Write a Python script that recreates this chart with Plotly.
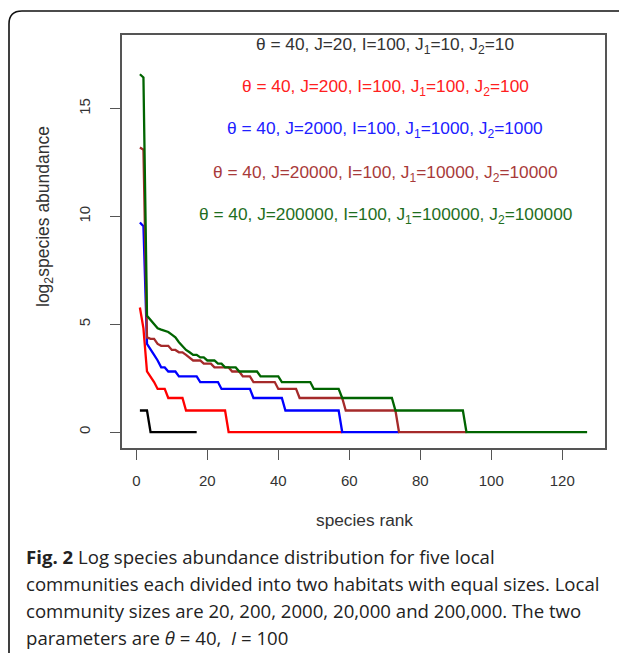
import plotly.graph_objects as go

# ---------------- data (log2 species abundance by rank) ----------------
black_vals = [1, 1, 1, 0, 0, 0, 0, 0, 0, 0, 0, 0, 0, 0, 0, 0, 0]

red_vals = [5.78, 4.81, 2.81, 2.58, 2.32, 2, 2, 2,
            1.58, 1.58, 1.58, 1.58, 1.58,
            1, 1, 1, 1, 1, 1, 1, 1, 1, 1, 1, 1,
            0, 0, 0, 0, 0, 0, 0, 0, 0, 0, 0, 0, 0, 0, 0, 0, 0,
            0, 0, 0, 0, 0, 0, 0, 0, 0, 0, 0, 0, 0, 0, 0, 0]

blue_vals = [9.72, 9.55, 4.09, 3.81, 3.58, 3.32, 3, 3, 2.81, 2.81, 2.81,
             2.58, 2.58, 2.58, 2.58, 2.58, 2.58,
             2.32, 2.32, 2.32, 2.32, 2.32, 2.32,
             2, 2, 2, 2, 2, 2, 2, 2, 2,
             1.58, 1.58, 1.58, 1.58, 1.58, 1.58, 1.58, 1.58, 1.58,
             1, 1, 1, 1, 1, 1, 1, 1, 1, 1, 1, 1, 1, 1, 1, 1,
             0, 0, 0, 0, 0, 0, 0, 0, 0, 0, 0, 0, 0, 0, 0, 0, 0]

brown_vals = [13.2, 13.1, 4.39, 4.32, 4.32, 4.09, 4, 4, 4, 3.81, 3.81, 3.7, 3.7,
              3.58, 3.46, 3.32, 3.32, 3.32, 3.17, 3.17, 3.17, 3, 3, 3, 3, 3,
              2.81, 2.81, 2.81, 2.58, 2.58, 2.58,
              2.32, 2.32, 2.32, 2.32, 2.32, 2.32, 2.32,
              2, 2, 2, 2, 2, 2,
              1.58, 1.58, 1.58, 1.58, 1.58, 1.58, 1.58, 1.58, 1.58, 1.58, 1.58, 1.58, 1.58,
              1, 1, 1, 1, 1, 1, 1, 1, 1, 1, 1, 1, 1, 1, 1,
              0, 0, 0, 0, 0, 0, 0, 0, 0, 0, 0, 0, 0, 0, 0, 0, 0, 0, 0, 0]

green_vals = [16.6, 16.45, 5.39, 5.21, 5.0, 4.81, 4.75, 4.7, 4.64, 4.52, 4.39, 4.17,
              4.0, 3.81, 3.7, 3.58, 3.58, 3.46, 3.46, 3.32, 3.32, 3.32, 3.17, 3.17,
              3, 3, 3, 3,
              2.81, 2.81, 2.81, 2.81, 2.81, 2.81,
              2.58, 2.58, 2.58, 2.58, 2.58, 2.58,
              2.32, 2.32, 2.32, 2.32, 2.32, 2.32, 2.32, 2.32, 2.32,
              2, 2, 2, 2, 2, 2, 2, 2,
              1.58, 1.58, 1.58, 1.58, 1.58, 1.58, 1.58, 1.58, 1.58, 1.58, 1.58, 1.58, 1.58, 1.58, 1.58,
              1, 1, 1, 1, 1, 1, 1, 1, 1, 1, 1, 1, 1, 1, 1, 1, 1, 1, 1, 1,
              0, 0, 0, 0, 0, 0, 0, 0, 0, 0, 0, 0, 0, 0, 0, 0, 0, 0, 0, 0,
              0, 0, 0, 0, 0, 0, 0, 0, 0, 0, 0, 0, 0, 0, 0]

series_labels = [
    "θ = 40, J=20, I=100, J<sub>1</sub>=10, J<sub>2</sub>=10",
    "θ = 40, J=200, I=100, J<sub>1</sub>=100, J<sub>2</sub>=100",
    "θ = 40, J=2000, I=100, J<sub>1</sub>=1000, J<sub>2</sub>=1000",
    "θ = 40, J=20000, I=100, J<sub>1</sub>=10000, J<sub>2</sub>=10000",
    "θ = 40, J=200000, I=100, J<sub>1</sub>=100000, J<sub>2</sub>=100000",
]
series_data = [black_vals, red_vals, blue_vals, brown_vals, green_vals]
series_colors = ["#000000", "#FF0000", "#0000FF", "#A52A2A", "#006400"]
text_colors = ["#333333", "#FF2020", "#2020FF", "#A83A3A", "#1E6E1E"]

x_ticks = [0, 20, 40, 60, 80, 100, 120]
y_ticks = [0, 5, 10, 15]

caption_lines = [
    "<b>Fig. 2</b> Log species abundance distribution for five local",
    "communities each divided into two habitats with equal sizes. Local",
    "community sizes are 20, 200, 2000, 20,000 and 200,000. The two",
    "parameters are <i>θ</i> = 40,  <i>I</i> = 100",
]

# ---------------- layout geometry (page pixels; page body has an 8px margin) ----------------
OFF = 8
PAGE_W, PAGE_H = 627, 653
W, H = PAGE_W - OFF, PAGE_H - OFF
L, R, T, B = 122, 605, 35, 448   # plot box in page pixels


def fx(px):
    return (px - L) / (R - L)


def fy(py):
    return (B - py) / (B - T)


fig = go.Figure()
for vals, col in zip(series_data, series_colors):
    fig.add_trace(go.Scatter(
        x=list(range(1, len(vals) + 1)), y=vals, mode="lines",
        line=dict(color=col, width=2.3), showlegend=False, hoverinfo="skip"))

axis_col = "#555555"
fig.update_xaxes(range=[-4.04, 132.04], tickvals=x_ticks, ticks="outside", ticklen=10,
                 tickwidth=1.3, tickcolor=axis_col, showline=True, linecolor=axis_col,
                 linewidth=1.5, mirror=True, showgrid=False, zeroline=False,
                 tickfont=dict(family="Liberation Sans, Arial", size=15, color="#333333"),
                 ticklabelstandoff=8)
fig.update_yaxes(range=[-0.74, 18.42], tickvals=y_ticks, ticks="outside", ticklen=10,
                 tickwidth=1.3, tickcolor=axis_col, showline=True, linecolor=axis_col,
                 linewidth=1.5, mirror=True, showgrid=False, zeroline=False,
                 tickangle=-90,
                 tickfont=dict(family="Liberation Sans, Arial", size=15, color="#333333"),
                 ticklabelstandoff=14)

annotations = []
label_y = [45, 87, 130, 173, 215]
for lab, col, py in zip(series_labels, text_colors, label_y):
    annotations.append(dict(x=fx(385), y=fy(py), xref="paper", yref="paper", text=lab,
                            showarrow=False, xanchor="center", yanchor="middle",
                            font=dict(family="Liberation Sans, Arial", size=17.3, color=col)))

annotations.append(dict(x=fx(364), y=fy(520), xref="paper", yref="paper", text="species rank",
                        showarrow=False, xanchor="center", yanchor="middle",
                        font=dict(family="Liberation Sans, Arial", size=17.3, color="#333333")))
annotations.append(dict(x=fx(44), y=fy(217), xref="paper", yref="paper",
                        text="log<sub>2</sub>species abundance", textangle=-90,
                        showarrow=False, xanchor="center", yanchor="middle",
                        font=dict(family="Liberation Sans, Arial", size=17.5, color="#333333")))

cap_y = [556, 583, 610, 637]
for line, py in zip(caption_lines, cap_y):
    annotations.append(dict(x=fx(24), y=fy(py), xref="paper", yref="paper", text=line,
                            showarrow=False, xanchor="left", yanchor="middle", align="left",
                            font=dict(family="Open Sans", size=18.6, color="#222222")))

# outer rounded frame
x0, y0, rad = 9, 11, 13
path = (f"M {fx(x0)} {fy(PAGE_H + 30)} L {fx(x0)} {fy(y0 + rad)} "
        f"Q {fx(x0)} {fy(y0)} {fx(x0 + rad)} {fy(y0)} L {fx(PAGE_W + 30)} {fy(y0)}")
shapes = [dict(type="path", xref="paper", yref="paper", path=path,
               line=dict(color="#111111", width=1.6))]

fig.update_layout(width=W, height=H,
                  margin=dict(l=L - OFF, r=PAGE_W - R, t=T - OFF, b=PAGE_H - B),
                  paper_bgcolor="white", plot_bgcolor="white",
                  annotations=annotations, shapes=shapes)

fig.write_html("out.html")
